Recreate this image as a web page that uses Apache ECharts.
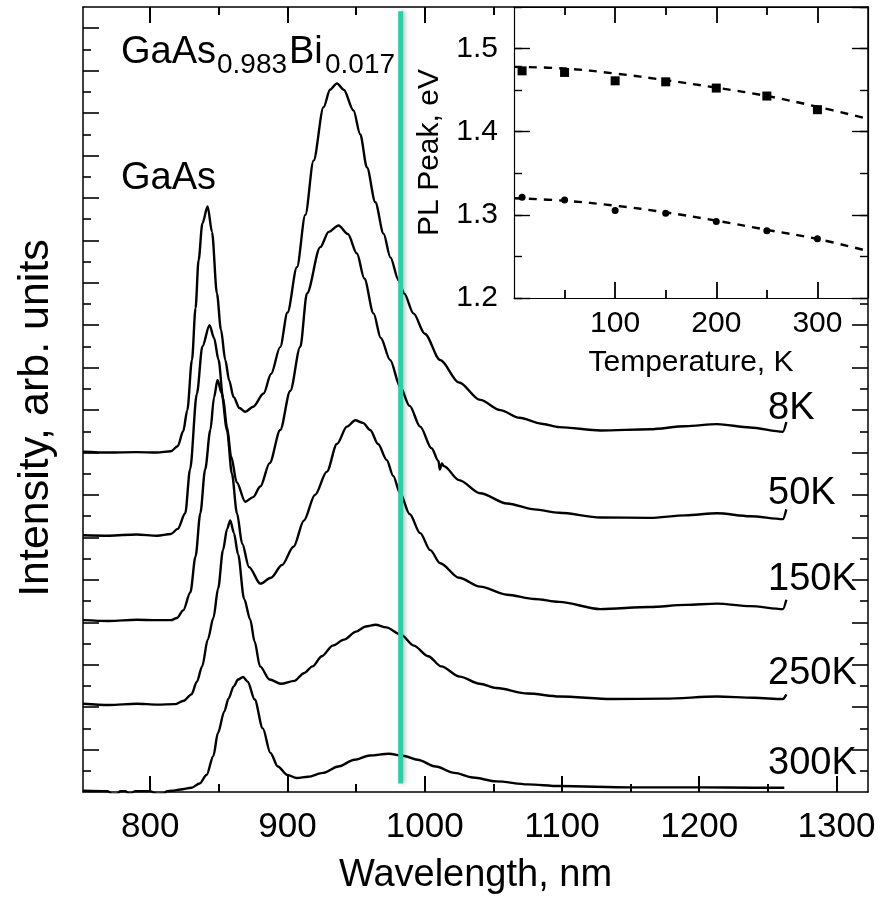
<!DOCTYPE html>
<html>
<head>
<meta charset="utf-8">
<script src="https://cdn.jsdelivr.net/npm/echarts@6/dist/echarts.min.js"></script>
<style>
  html, body { margin: 0; padding: 0; background: #fff; }
  #chart { width: 884px; height: 900px; }
</style>
</head>
<body>
<div id="chart"></div>
<script>
// Photoluminescence spectra of GaAs(0.983)Bi(0.017), stacked with vertical offsets (arb. units)
const wl8K  = [751, 770, 790, 805, 815, 820, 824, 827, 830.4, 833, 835.2, 838, 841.8, 845, 848.6, 851.5, 854.7, 857.5, 860.7, 865, 869.2, 875, 882.6, 888, 894.7, 900, 906.9, 913, 919, 926.3, 931, 936, 941, 948.1, 953, 957.9, 964, 970, 975, 980.9, 985, 991.8, 1000, 1011.3, 1025, 1040.4, 1055, 1069, 1085, 1098, 1128, 1164, 1190, 1213, 1237, 1261, 1263.5];
const int8K = [8.02, 8.00, 8.01, 8.00, 8.03, 8.15, 8.5, 9.0, 10.18, 11.4, 12.53, 13.4, 13.80, 13.2, 11.75, 10.9, 10.18, 9.7, 9.31, 9.05, 8.96, 9.08, 9.39, 9.85, 10.49, 11.3, 12.37, 13.6, 14.88, 16.14, 16.55, 16.70, 16.55, 16.06, 15.5, 14.72, 13.9, 13.16, 12.6, 12.06, 11.75, 11.28, 10.8, 10.18, 9.65, 9.24, 9.0, 8.82, 8.68, 8.6, 8.52, 8.55, 8.62, 8.67, 8.59, 8.49, 8.72];

const wl50K  = [751, 770, 790, 805, 815, 820, 825.5, 829, 834, 838, 843.2, 846.5, 849.8, 853, 855.9, 859, 863, 869.2, 875, 880.2, 887, 894.7, 902, 909.3, 914.2, 923.9, 930, 937.2, 944, 950.6, 956, 962.7, 968, 974.8, 982.1, 989, 996.7, 1005, 1010, 1011, 1012.5, 1014, 1025, 1040.4, 1060, 1080, 1098, 1128, 1164, 1190, 1213, 1237, 1261, 1263.5];
const int50K = [6.05, 6.04, 6.07, 6.04, 6.08, 6.2, 6.57, 7.6, 9.39, 10.5, 11.0, 10.7, 10.18, 9.3, 8.61, 7.9, 7.3, 6.84, 6.95, 7.2, 7.75, 8.53, 9.45, 10.49, 11.75, 12.84, 13.2, 13.35, 13.15, 12.69, 12.1, 11.28, 10.7, 10.18, 9.55, 9.1, 8.61, 8.1, 7.8, 7.6, 7.74, 7.68, 7.35, 7.04, 6.8, 6.66, 6.58, 6.47, 6.46, 6.52, 6.57, 6.5, 6.43, 6.66];

const wl150K  = [751, 770, 790, 805, 815, 819.5, 824, 829.2, 833, 836.5, 840, 843.8, 846.5, 849, 852, 855.9, 859.5, 863.2, 867, 872, 880.2, 888, 896, 904.4, 912, 920, 928.7, 936, 943.3, 949.4, 955, 960.3, 966, 972.4, 977, 982.1, 989, 996.7, 1004, 1011.3, 1025, 1040.4, 1060, 1080, 1098, 1128, 1164, 1190, 1213, 1237, 1261, 1263.5];
const int150K = [4.05, 4.03, 4.06, 4.05, 4.05, 4.1, 4.28, 4.7, 5.55, 6.57, 7.6, 8.53, 9.3, 9.71, 9.4, 8.53, 7.5, 6.57, 5.85, 5.3, 4.91, 5.05, 5.35, 5.78, 6.4, 7.0, 7.55, 8.2, 8.61, 8.76, 8.7, 8.53, 8.2, 7.82, 7.45, 7.04, 6.55, 6.10, 5.7, 5.39, 5.05, 4.84, 4.65, 4.55, 4.48, 4.31, 4.36, 4.41, 4.44, 4.38, 4.31, 4.53];

const wl250K  = [751, 770, 790, 805, 818, 824.4, 830, 834, 837.8, 842, 846, 849.5, 853, 856, 858.3, 861, 864, 868.4, 872.9, 876, 880, 887, 895.2, 905, 912, 918.2, 925, 933, 941.2, 950, 957, 964.2, 972, 982.6, 992, 1002.5, 1012, 1025.5, 1040, 1052.3, 1075, 1098.3, 1136.6, 1175, 1213, 1240, 1261, 1263.5];
const int250K = [2.08, 2.05, 2.08, 2.06, 2.07, 2.15, 2.3, 2.6, 2.96, 3.6, 4.1, 4.8, 5.7, 6.2, 6.40, 6.1, 5.6, 4.55, 4.06, 3.55, 2.96, 2.65, 2.55, 2.62, 2.8, 2.96, 3.2, 3.45, 3.59, 3.78, 3.9, 3.94, 3.88, 3.71, 3.45, 3.20, 2.96, 2.72, 2.55, 2.45, 2.32, 2.25, 2.19, 2.2, 2.25, 2.22, 2.19, 2.3];

const wl300K  = [751, 769, 772, 776, 778, 782, 785, 789, 800, 805, 810, 812, 816, 822, 830, 836, 841, 846, 849.3, 854, 857, 860.8, 864, 867.7, 871, 876.1, 882, 887.6, 893, 900, 906.7, 915, 925.9, 937, 948.8, 960, 973.8, 985, 994.8, 1008, 1021.6, 1035, 1052.3, 1075, 1098, 1150, 1200, 1240, 1262];
const int300K = [0.03, 0.02, -0.05, -0.05, 0.02, 0.02, -0.05, 0.02, 0.02, -0.05, -0.04, 0.02, 0.03, 0.06, 0.1, 0.2, 0.4, 0.85, 1.39, 1.9, 2.2, 2.49, 2.65, 2.71, 2.6, 2.18, 1.5, 0.92, 0.6, 0.4, 0.33, 0.36, 0.45, 0.6, 0.76, 0.86, 0.90, 0.85, 0.76, 0.6, 0.45, 0.34, 0.25, 0.18, 0.14, 0.11, 0.11, 0.1, 0.1];

// Wavelength axis ticks (nm); the top edge only carries those left of the inset
const wlTicks = [800, 900, 1000, 1100, 1200, 1300];
const wlMinorTicks = [850, 950, 1050, 1150, 1250];
const wlTopTicks = [800, 900, 1000];
const wlTopMinorTicks = [850, 950, 1050];

// Intensity axis ticks (offset units); the right edge only carries those below the inset
const intTicks = [1, 2, 3, 4, 5, 6, 7, 8, 9, 10, 11, 12, 13, 14, 15, 16, 17, 18];
const intMinorTicks = [0.5, 1.5, 2.5, 3.5, 4.5, 5.5, 6.5, 7.5, 8.5, 9.5, 10.5, 11.5, 12.5, 13.5, 14.5, 15.5, 16.5, 17.5];
const intRightTicks = [1, 2, 3, 4, 5, 6, 7, 8, 9, 10, 11];
const intRightMinorTicks = [0.5, 1.5, 2.5, 3.5, 4.5, 5.5, 6.5, 7.5, 8.5, 9.5, 10.5, 11.5];

// Inset temperature axis ticks (K)
const tkTicks = [100, 200, 300];
const tkMinorTicks = [50, 150, 250];

// Wavelength marker (nm) and its vertical extent
const markerWavelength = 982.5;
const markerSpan = [0.2, 18.4];

// Labels at the right-hand end of each spectrum
const tempLabels = ['8K', '50K', '150K', '250K', '300K'];

// Inset: PL peak energy vs temperature
const tempK = [8, 50, 100, 150, 200, 250, 300];
const peakBi = [1.4732, 1.4713, 1.4612, 1.4600, 1.4525, 1.4429, 1.4265];
const peakGaAs = [1.3212, 1.3180, 1.3052, 1.3020, 1.2920, 1.2808, 1.2712];
const fitT = [0, 50, 100, 150, 200, 250, 300, 345];
const fitBi = [1.478, 1.476, 1.470, 1.462, 1.453, 1.443, 1.430, 1.417];
const fitGaAs = [1.320, 1.317, 1.311, 1.303, 1.293, 1.282, 1.271, 1.258];

const FONT = '"Liberation Sans", Arial, Helvetica, sans-serif';
const pairs = (xs, ys) => xs.map((x, i) => [x, ys[i]]);

const WL = { min: 751, max: 1323 };
const INT = { min: 0, max: 18.5 };
const TK = { min: 0, max: 350 };
const EV = { min: 1.2, max: 1.55 };

const chart = echarts.init(document.getElementById('chart'), null, { renderer: 'canvas' });

const TICK_COLOR = '#000';
const tick = (values, len, width) => ({ show: true, inside: true, length: len, customValues: values, lineStyle: { color: TICK_COLOR, width } });
const axisLineOn = width => ({ show: true, onZero: false, lineStyle: { color: '#000', width } });
const axisLineOff = { show: false, onZero: false };

function axis(opts) {
  return Object.assign({
    type: 'value',
    axisLine: axisLineOn(1.5),
    axisTick: { show: false },
    axisLabel: { show: false },
    splitLine: { show: false }
  }, opts);
}

const spectrumSeries = (name, xs, ys) => ({
  name, type: 'line', xAxisIndex: 0, yAxisIndex: 0,
  data: pairs(xs, ys), showSymbol: false, symbol: 'none',
  smooth: 0.3, smoothMonotone: 'x', clip: true,
  lineStyle: { color: '#000', width: 2.4 }, z: 2, silent: true
});

const tempLabelPos = [[768, 408.5], [768, 493.5], [768, 579.5], [768, 673.5], [768, 764]];
const textStyle = (text, size) => ({ text, fontSize: size, fontFamily: FONT, fill: '#000', align: 'left', verticalAlign: 'middle' });

const option = {
  animation: false,
  grid: [
    { left: 83, top: 7, right: 16, bottom: 108 },
    { left: 514, top: 7, right: 16, bottom: 602 }
  ],
  xAxis: [
    axis(Object.assign({ gridIndex: 0, position: 'bottom', axisTick: tick(wlTicks, 16, 2),
      axisLabel: { show: true, color: '#000', fontSize: 35, fontFamily: FONT, margin: 18,
        customValues: wlTicks, formatter: v => String(v) },
      name: 'Wavelength, nm', nameLocation: 'middle', nameGap: 65,
      nameTextStyle: { color: '#000', fontSize: 38, fontFamily: FONT } }, WL)),
    axis(Object.assign({ gridIndex: 0, position: 'bottom', axisLine: axisLineOff, axisTick: tick(wlMinorTicks, 8, 2) }, WL)),
    axis(Object.assign({ gridIndex: 0, position: 'top', axisTick: tick(wlTopTicks, 16, 2) }, WL)),
    axis(Object.assign({ gridIndex: 0, position: 'top', axisLine: axisLineOff, axisTick: tick(wlTopMinorTicks, 8, 2) }, WL)),
    // inset temperature axis
    axis(Object.assign({ gridIndex: 1, position: 'bottom', axisLine: axisLineOn(1.2), axisTick: tick(tkTicks, 16, 1.8),
      axisLabel: { show: true, color: '#000', fontSize: 30, fontFamily: FONT, margin: 11, customValues: tkTicks },
      name: 'Temperature, K', nameLocation: 'middle', nameGap: 50,
      nameTextStyle: { color: '#000', fontSize: 30, fontFamily: FONT } }, TK)),
    axis(Object.assign({ gridIndex: 1, position: 'bottom', axisLine: axisLineOff, axisTick: tick(tkMinorTicks, 8, 1.8) }, TK)),
    axis(Object.assign({ gridIndex: 1, position: 'top', axisLine: axisLineOn(1.2), axisTick: tick(tkTicks, 16, 1.8) }, TK)),
    axis(Object.assign({ gridIndex: 1, position: 'top', axisLine: axisLineOff, axisTick: tick(tkMinorTicks, 8, 1.8) }, TK))
  ],
  yAxis: [
    axis(Object.assign({ gridIndex: 0, position: 'left', axisTick: tick(intTicks, 16, 1.6) }, INT)),
    axis(Object.assign({ gridIndex: 0, position: 'left', axisLine: axisLineOff, axisTick: tick(intMinorTicks, 8, 1.6) }, INT)),
    axis(Object.assign({ gridIndex: 0, position: 'right', axisTick: tick(intRightTicks, 16, 1.6) }, INT)),
    axis(Object.assign({ gridIndex: 0, position: 'right', axisLine: axisLineOff, axisTick: tick(intRightMinorTicks, 8, 1.6) }, INT)),
    // inset energy axis
    axis(Object.assign({ gridIndex: 1, position: 'left', interval: 0.1, axisLine: axisLineOn(1.2),
      axisTick: { show: true, inside: true, length: 16, lineStyle: { color: '#000', width: 1.4 } },
      axisLabel: { show: true, color: '#000', fontSize: 30, fontFamily: FONT, margin: 16, showMaxLabel: false,
        padding: [7, 0, 0, 0], formatter: v => v.toFixed(1) },
      name: 'PL Peak, eV', nameLocation: 'middle', nameGap: 69,
      nameTextStyle: { color: '#000', fontSize: 30, fontFamily: FONT } }, EV)),
    axis(Object.assign({ gridIndex: 1, position: 'left', interval: 0.05, axisLine: axisLineOff,
      axisTick: { show: true, inside: true, length: 8, lineStyle: { color: '#000', width: 1.4 } } }, EV)),
    axis(Object.assign({ gridIndex: 1, position: 'right', interval: 0.1, axisLine: axisLineOn(1.2),
      axisTick: { show: true, inside: true, length: 16, lineStyle: { color: '#000', width: 1.4 } } }, EV)),
    axis(Object.assign({ gridIndex: 1, position: 'right', interval: 0.05, axisLine: axisLineOff,
      axisTick: { show: true, inside: true, length: 8, lineStyle: { color: '#000', width: 1.4 } } }, EV))
  ],
  series: [
    spectrumSeries('8K', wl8K, int8K),
    spectrumSeries('50K', wl50K, int50K),
    spectrumSeries('150K', wl150K, int150K),
    spectrumSeries('250K', wl250K, int250K),
    spectrumSeries('300K', wl300K, int300K),
    {
      name: 'marker', type: 'line', xAxisIndex: 0, yAxisIndex: 0,
      data: [[markerWavelength, markerSpan[0]], [markerWavelength, markerSpan[1]]],
      showSymbol: false, symbol: 'none', z: 3, silent: true,
      lineStyle: { color: '#1ed4a8', width: 5, shadowColor: 'rgba(0,0,0,0.25)', shadowBlur: 4, shadowOffsetX: 2 }
    },
    {
      name: 'fit Bi', type: 'line', xAxisIndex: 4, yAxisIndex: 4, data: pairs(fitT, fitBi),
      smooth: 0.4, showSymbol: false, symbol: 'none', z: 5, silent: true,
      lineStyle: { color: '#000', width: 2.4, type: [8, 7] }
    },
    {
      name: 'fit GaAs', type: 'line', xAxisIndex: 4, yAxisIndex: 4, data: pairs(fitT, fitGaAs),
      smooth: 0.4, showSymbol: false, symbol: 'none', z: 5, silent: true,
      lineStyle: { color: '#000', width: 2.4, type: [8, 7] }
    },
    {
      name: 'peak Bi', type: 'scatter', xAxisIndex: 4, yAxisIndex: 4, data: pairs(tempK, peakBi),
      symbol: 'rect', symbolSize: 9, itemStyle: { color: '#000', opacity: 1 }, z: 6, silent: true
    },
    {
      name: 'peak GaAs', type: 'scatter', xAxisIndex: 4, yAxisIndex: 4, data: pairs(tempK, peakGaAs),
      symbol: 'circle', symbolSize: 7, itemStyle: { color: '#000', opacity: 1 }, z: 6, silent: true
    }
  ],
  graphic: [
    { type: 'text', x: 36, y: 418, rotation: Math.PI / 2, z: 10,
      style: { text: 'Intensity, arb. units', fontSize: 43, fontFamily: FONT, fill: '#000', align: 'center', verticalAlign: 'middle' } },
    { type: 'text', x: 121, y: 52.5, z: 10, style: textStyle('GaAs', 38) },
    { type: 'text', x: 217, y: 65, z: 10, style: textStyle('0.983', 28) },
    { type: 'text', x: 289, y: 52.5, z: 10, style: textStyle('Bi', 38) },
    { type: 'text', x: 325, y: 65, z: 10, style: textStyle('0.017', 28) },
    { type: 'text', x: 121, y: 178.5, z: 10, style: textStyle('GaAs', 38) }
  ].concat(tempLabels.map((t, i) => ({
    type: 'text', x: tempLabelPos[i][0], y: tempLabelPos[i][1], z: 10, style: textStyle(t, 38)
  })))
};

chart.setOption(option);
</script>
</body>
</html>
